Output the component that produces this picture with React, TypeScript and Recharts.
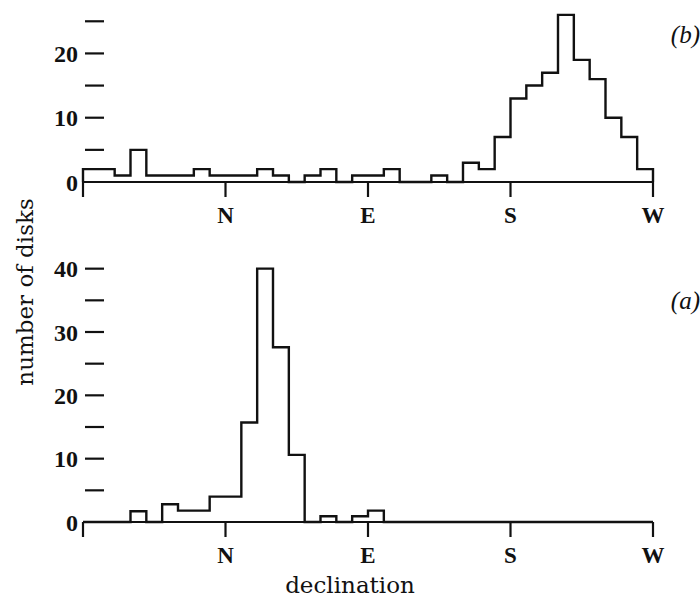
import React from 'react';
import { LineChart, Line, XAxis, YAxis } from 'recharts';

// Declination bins of 10°, running W → N → E → S → W (36 bins)
const binWidthDeg = 10;
const directionTicks = [0, 90, 180, 270, 360];
const directionLabels = ['', 'N', 'E', 'S', 'W'];

// (b) upper panel counts
const countsB = [2, 2, 1, 5, 1, 1, 1, 2, 1, 1, 1, 2, 1, 0, 1, 2, 0, 1, 1, 2, 0, 0, 1, 0, 3, 2, 7, 13, 15, 17, 26, 19, 16, 10, 7, 2];
// (a) lower panel counts
const countsA = [0, 0, 0, 1.7, 0, 2.8, 1.8, 1.8, 4, 4, 15.7, 40, 27.6, 10.6, 0, 0.9, 0, 0.9, 1.8, 0, 0, 0, 0, 0, 0, 0, 0, 0, 0, 0, 0, 0, 0, 0, 0, 0];

const yTicksB = [0, 5, 10, 15, 20, 25];
const yTicksA = [0, 5, 10, 15, 20, 25, 30, 35, 40];

const toSteps = (counts: number[]) => {
  const pts: { x: number; y: number }[] = [{ x: 0, y: 0 }];
  counts.forEach((c, i) => pts.push({ x: i * binWidthDeg, y: c }));
  pts.push({ x: counts.length * binWidthDeg, y: counts[counts.length - 1] });
  pts.push({ x: counts.length * binWidthDeg, y: 0 });
  return pts;
};

const INK = '#111';
const SERIF = "'Liberation Serif', 'Times New Roman', serif";
const BODY = "'DejaVu Serif', serif";

const YTick = (props: any) => {
  const { x, y, payload } = props;
  const v = payload.value;
  return (
    <g>
      {v !== 0 && <line x1={x + 2} x2={x + 21} y1={y} y2={y} stroke={INK} strokeWidth={2.2} />}
      {v % 10 === 0 && (
        <text x={x - 5} y={y} dy="0.36em" textAnchor="end" style={{ fontFamily: SERIF, fontWeight: 700, fontSize: 24 }} fill={INK}>
          {v}
        </text>
      )}
    </g>
  );
};

const XTick = (props: any) => {
  const { x, y, payload } = props;
  const label = directionLabels[directionTicks.indexOf(payload.value)];
  return (
    <text x={x} y={y} dy="0.72em" textAnchor="middle" style={{ fontFamily: SERIF, fontWeight: 700, fontSize: 23 }} fill={INK}>
      {label}
    </text>
  );
};

const Panel = ({ counts, yMax, yTicks, height, top }: { counts: number[]; yMax: number; yTicks: number[]; height: number; top: number }) => (
  <LineChart width={700} height={height} data={toSteps(counts)} margin={{ top, right: 47, bottom: 0, left: 0 }}>
    <XAxis
      type="number"
      dataKey="x"
      domain={[0, 360]}
      ticks={directionTicks}
      interval={0}
      height={55}
      axisLine={{ stroke: INK, strokeWidth: 2.2 }}
      tickLine={{ stroke: INK, strokeWidth: 2.2 }}
      tickSize={15}
      tickMargin={9}
      tick={<XTick />}
    />
    <YAxis
      type="number"
      domain={[0, yMax]}
      ticks={yTicks}
      interval={0}
      width={83}
      axisLine={false}
      tickLine={false}
      tickSize={0}
      tickMargin={0}
      tick={<YTick />}
    />
    <Line type="stepAfter" dataKey="y" stroke={INK} strokeWidth={2.4} dot={false} isAnimationActive={false} />
  </LineChart>
);

export default function App() {
  return (
    <div style={{ position: 'relative', width: 700, height: 597, background: '#fff' }}>
      <style>{`body{margin:0;background:#fff}`}</style>
      <div style={{ position: 'absolute', left: 0, top: 0 }}>
        <Panel counts={countsB} yMax={28} yTicks={yTicksB} height={237} top={2} />
      </div>
      <div style={{ position: 'absolute', left: 0, top: 250 }}>
        <Panel counts={countsA} yMax={42} yTicks={yTicksA} height={327} top={6} />
      </div>
      <svg width={700} height={597} style={{ position: 'absolute', left: 0, top: 0, pointerEvents: 'none' }}>
        <text x={350} y={593} textAnchor="middle" style={{ fontFamily: BODY, fontSize: 23 }} fill={INK}>
          declination
        </text>
        <text x={33} y={292} transform="rotate(-90 33 292)" textAnchor="middle" style={{ fontFamily: BODY, fontSize: 23 }} fill={INK}>
          number of disks
        </text>
        <text x={700} y={43} textAnchor="end" style={{ fontFamily: SERIF, fontStyle: 'italic', fontSize: 25 }} fill={INK}>
          (b)
        </text>
        <text x={700} y={309} textAnchor="end" style={{ fontFamily: SERIF, fontStyle: 'italic', fontSize: 25 }} fill={INK}>
          (a)
        </text>
      </svg>
    </div>
  );
}
